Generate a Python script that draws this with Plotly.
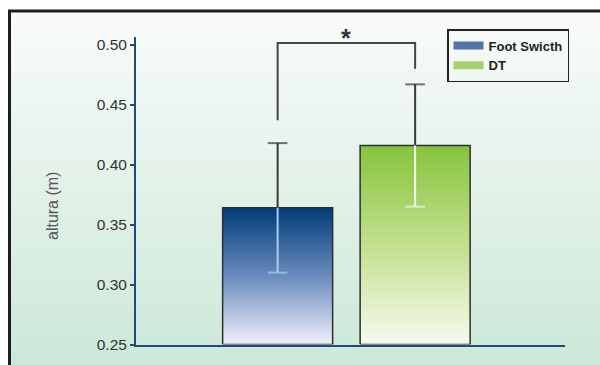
import base64
import struct
import zlib

import plotly.graph_objects as go

# ---------------- data ----------------
groups = ["Foot Swicth", "DT"]
means = [0.364, 0.416]
sds = [0.054, 0.051]
sig_label = "*"
bracket_top = 0.5015
bracket_left_bottom = 0.437
bracket_right_bottom = 0.480
y_ticks = [0.25, 0.30, 0.35, 0.40, 0.45, 0.50]
y_tick_text = ["0.25", "0.30", "0.35", "0.40", "0.45", "0.50"]
y_title = "altura (m)"

# ---------------- style ----------------
W, H = 600, 365
bar_width = 0.8
y_min, y_max = 0.25, 0.5065
x_min, x_max = -1.03, 2.09
axis_color = "#1f4a7c"
outline = "#2e2e2e"
grad = [
    [[0, "#f1f0fb"], [0.5, "#6a8bbd"], [1, "#003c7a"]],
    [[0, "#f6faf0"], [0.5, "#c2e08e"], [1, "#86c33c"]],
]
legend_colors = ["#4f74a8", "#a6d06a"]
err_light = ["#a6d0f2", "#f4f8ec"]
err_dark = "#3a3a3a"
font = "Liberation Sans, Arial, sans-serif"


def px_x(p):
    return p / W


def px_y(p):
    return 1 - p / H


def gradient_png(top, bottom, n=128):
    rows = b""
    for i in range(n):
        t = i / (n - 1)
        c = bytes(int(round(top[k] + (bottom[k] - top[k]) * t)) for k in range(3))
        rows += b"\x00" + c

    def chunk(tag, data):
        return (struct.pack(">I", len(data)) + tag + data
                + struct.pack(">I", zlib.crc32(tag + data) & 0xFFFFFFFF))

    png = (b"\x89PNG\r\n\x1a\n"
           + chunk(b"IHDR", struct.pack(">IIBBBBB", 1, n, 8, 2, 0, 0, 0))
           + chunk(b"IDAT", zlib.compress(rows))
           + chunk(b"IEND", b""))
    return "data:image/png;base64," + base64.b64encode(png).decode()


fig = go.Figure()

# bars (gradient filled rectangles built from the data)
for i, (g, m) in enumerate(zip(groups, means)):
    x0, x1 = i - bar_width / 2, i + bar_width / 2
    fig.add_trace(go.Scatter(
        x=[x0, x0, x1, x1, x0], y=[y_min, m, m, y_min, y_min],
        mode="lines", fill="toself", name=g, legendgroup=g,
        line=dict(color=outline, width=1.5),
        fillgradient=dict(type="vertical", colorscale=grad[i]),
        hoverinfo="skip", showlegend=False,
    ))
    # legend entry (wide swatch)
    fig.add_trace(go.Scatter(
        x=[None], y=[None], mode="lines", name=g, legendgroup=g,
        line=dict(color=legend_colors[i], width=8), showlegend=True,
    ))

# error bars: dark upper part, light lower part inside the bar
for i, (m, s) in enumerate(zip(means, sds)):
    fig.add_trace(go.Scatter(
        x=[i, i], y=[m, m + s], mode="lines+markers",
        line=dict(color=err_dark, width=2),
        marker=dict(symbol=["line-ew", "line-ew"], size=[0, 14],
                    line=dict(color=err_dark, width=2)),
        showlegend=False, hoverinfo="skip",
    ))
    fig.add_trace(go.Scatter(
        x=[i, i], y=[m - s, m], mode="lines+markers",
        line=dict(color=err_light[i], width=2),
        marker=dict(symbol=["line-ew", "line-ew"], size=[14, 0],
                    line=dict(color=err_light[i], width=2)),
        showlegend=False, hoverinfo="skip",
    ))

# significance bracket
fig.add_trace(go.Scatter(
    x=[0, 0, 1, 1],
    y=[bracket_left_bottom, bracket_top, bracket_top, bracket_right_bottom],
    mode="lines", line=dict(color="#444444", width=2),
    showlegend=False, hoverinfo="skip", cliponaxis=False,
))
fig.add_annotation(x=0.5, y=bracket_top, xref="x", yref="y", text=sig_label,
                   showarrow=False, xanchor="center", yanchor="middle",
                   yshift=5,
                   font=dict(family=font, size=25, color="#333333",
                             weight="bold"))

# y axis title
fig.add_annotation(x=px_x(52), y=px_y(206), xref="paper", yref="paper",
                   xanchor="center", yanchor="middle",
                   text=y_title, textangle=-90, showarrow=False,
                   font=dict(family=font, size=16, color="#555555"))

# background gradient + frame
fig.add_layout_image(dict(
    source=gradient_png((249, 251, 250), (204, 232, 216)),
    xref="paper", yref="paper", x=px_x(9), y=px_y(11),
    sizex=1 - px_x(9), sizey=px_y(11), xanchor="left", yanchor="top",
    sizing="stretch", layer="below",
))
fig.add_shape(type="path", xref="paper", yref="paper",
              path=f"M {px_x(9.5)},0 L {px_x(9.5)},{px_y(11)} L 1,{px_y(11)}",
              line=dict(color="#1e1e1e", width=3))

fig.update_layout(
    width=W, height=H,
    margin=dict(l=0, r=0, t=0, b=0, pad=0),
    paper_bgcolor="white",
    plot_bgcolor="rgba(0,0,0,0)",
    font=dict(family=font, color="#333333"),
    showlegend=True,
    legend=dict(
        x=px_x(447), y=px_y(29), xanchor="left", yanchor="top",
        bgcolor="rgba(0,0,0,0)", bordercolor="#222222", borderwidth=1.5,
        font=dict(family=font, size=13, color="#222222", weight="bold"),
        tracegroupgap=0, itemclick=False,
    ),
    xaxis=dict(
        domain=[px_x(136), px_x(565)], range=[x_min, x_max],
        showgrid=False, zeroline=False, showticklabels=False, ticks="",
        showline=True, linecolor=axis_color, linewidth=2, automargin=False,
    ),
    yaxis=dict(
        domain=[px_y(344.5), px_y(37)], range=[y_min, y_max],
        tickvals=y_ticks, ticktext=y_tick_text,
        showgrid=False, zeroline=False, automargin=False,
        showline=True, linecolor=axis_color, linewidth=2,
        ticks="outside", ticklen=4, tickwidth=1.5, tickcolor=axis_color,
        tickfont=dict(family=font, size=15.5, color="#333333"),
    ),
)

fig.write_html("out.html", config={"displayModeBar": False},
               post_script="document.body.style.margin='0';"
                           "document.body.style.overflow='hidden';")
